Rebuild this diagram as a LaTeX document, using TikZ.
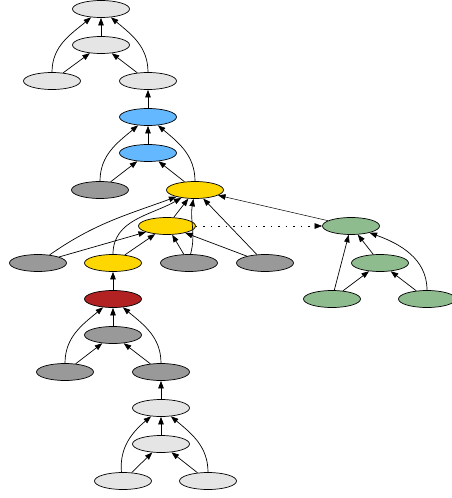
\documentclass[tikz,border=0pt]{standalone}
\usetikzlibrary{arrows.meta,shapes.geometric}
\definecolor{lgray}{HTML}{E5E5E5}
\definecolor{dgray}{HTML}{999999}
\definecolor{sblue}{HTML}{63B8FF}
\definecolor{golden}{HTML}{FFD700}
\definecolor{fbrick}{HTML}{B22222}
\definecolor{dsgreen}{HTML}{8FBC8F}
\begin{document}
\begin{tikzpicture}[x = 1pt, y = -1pt, line width = 0.7pt,
                        >={Triangle[length=7.5pt,width=5.5pt]},
                        oval/.style = {ellipse, draw, minimum width = 57pt, minimum height = 17pt, inner sep = 0pt},
                        lightnode/.style = {oval, fill = lgray},
                        greynode/.style = {oval, fill = dgray},
                        bluenode/.style = {oval, fill = sblue},
                        goldnode/.style = {oval, fill = golden},
                        rednode/.style = {oval, fill = fbrick},
                        greennode/.style = {oval, fill = dsgreen}]
    \useasboundingbox (0, 0) rectangle (452, 498);
    % top group
    \node [lightnode] (t0) at (101, 9){};
    \node [lightnode] (t1) at (101, 45){};
    \node [lightnode] (t2) at (52, 81){};
    \node [lightnode] (t3) at (148, 81){};
    \node [bluenode] (b0) at (148, 117){};
    \node [bluenode] (b1) at (148, 153){};
    \node [greynode] (g0) at (100, 190){};
    \node [goldnode] (y0) at (195, 190){};
    % middle row
    \node [goldnode] (y1) at (167, 226){};
    \node [greynode] (g1) at (38, 263){};
    \node [goldnode] (y2) at (113, 263){};
    \node [greynode] (g2) at (189, 263){};
    \node [greynode] (g3) at (265, 263){};
    \node [rednode] (r0) at (113, 299){};
    % green group
    \node [greennode] (s0) at (351, 226){};
    \node [greennode] (s1) at (380, 263){};
    \node [greennode] (s2) at (332, 299){};
    \node [greennode] (s3) at (427, 299){};
    % bottom group
    \node [greynode] (g4) at (113, 335){};
    \node [greynode] (g5) at (65, 372){};
    \node [greynode] (g6) at (161, 372){};
    \node [lightnode] (l0) at (161, 408){};
    \node [lightnode] (l1) at (161, 444){};
    \node [lightnode] (l2) at (123, 481){};
    \node [lightnode] (l3) at (208, 481){};

    \draw [->] (t1)--(t0);
    \draw [->] (t2)--(t1);
    \draw [->] (t3)--(t1);
    \draw [->] (t2.north) to[out=90, in=220] (t0);
    \draw [->] (t3.north) to[out=90, in=-40] (t0);
    \draw [->] (b0)--(t3);
    \draw [->] (b1)--(b0);
    \draw [->] (g0)--(b1);
    \draw [->] (y0)--(b1);
    \draw [->] (g0.north) to[out=90, in=220] (b0);
    \draw [->] (y0.north) to[out=90, in=-40] (b0);

    \draw [->] (y1)--(y0);
    \draw [->, line width = 0.5pt] (s0)--(y0);
    \draw [->, dash pattern = on 1.5pt off 6pt, line width = 0.5pt] (y1)--(s0);
    \draw [->] (g1)--(y1);
    \draw [->] (g1) to[out=35, in=200] (y0);
    \draw [->] (y2)--(y1);
    \draw [->] (y2.north) to[out=90, in=210] (y0);
    \draw [->] (g2)--(y1);
    \draw [->] (g2.80) to[out=75, in=-100] (y0);
    \draw [->] (g3)--(y1);
    \draw [->] (g3)--(y0);
    \draw [->] (r0)--(y2);

    \draw [->] (s1)--(s0);
    \draw [->] (s2)--(s1);
    \draw [->] (s3)--(s1);
    \draw [->] (s2)--(s0);
    \draw [->] (s3.north) to[out=90, in=-20] (s0);

    \draw [->] (g4)--(r0);
    \draw [->] (g5)--(g4);
    \draw [->] (g6)--(g4);
    \draw [->] (g5.north) to[out=90, in=220] (r0);
    \draw [->] (g6.north) to[out=90, in=-40] (r0);
    \draw [->] (l0)--(g6);
    \draw [->] (l1)--(l0);
    \draw [->] (l2)--(l1);
    \draw [->] (l3)--(l1);
    \draw [->] (l2.100) to[out=95, in=220] (l0);
    \draw [->] (l3.north) to[out=90, in=-40] (l0);
  \end{tikzpicture}
\end{document}
